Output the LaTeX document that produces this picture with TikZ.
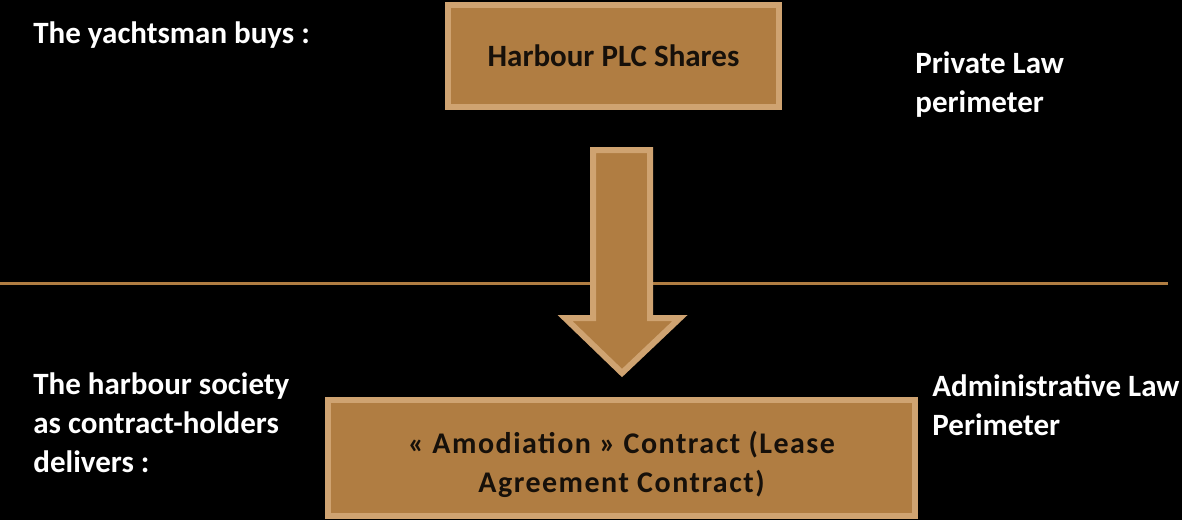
\documentclass[tikz,border=0pt]{standalone}
\usepackage{fontspec}
\setmainfont{Carlito}
\newfontfamily\leasefont[LetterSpace=5]{Carlito}
\definecolor{harbourfill}{RGB}{176,125,66}
\definecolor{harbouredge}{RGB}{207,163,113}
\definecolor{harbourtext}{RGB}{22,16,10}

\begin{document}
\begin{tikzpicture}[x=0.5pt,y=-0.5pt,
  contractbox/.style={draw=harbouredge,fill=harbourfill,line width=3pt,text=harbourtext,
    align=center,inner sep=0pt,font=\bfseries\fontsize{15.5}{20}\selectfont},
  sidelabel/.style={anchor=base west,text=white,align=left,inner sep=0pt,
    font=\bfseries\fontsize{15.5}{19.3}\selectfont}]
\useasboundingbox[fill=black] (0,0) rectangle (1182,520);

% perimeter boundary
\coordinate (lawL) at (0,283);
\coordinate (lawR) at (1168,283);
\draw[harbourfill,line width=1.5pt] (lawL) -- (lawR);

% boxes
\node[contractbox,minimum width=165.5pt,minimum height=51pt] (shares) at (613.5,56)
  {Harbour PLC Shares};
\node[contractbox,minimum width=293.5pt,minimum height=58pt,
  font=\leasefont\bfseries\fontsize{15}{19.5}\selectfont] (lease) at (621.5,458)
  {\rule{0pt}{18pt}« Amodiation » Contract (Lease\\Agreement Contract)};

% block arrow between the perimeters
\draw[harbouredge,fill=harbourfill,line width=3pt,line join=miter]
  (593,150) -- (650,150) -- (650,318) -- (680,318) -- (622,373)
  -- (565,318) -- (593,318) -- cycle;

% labels (base = last line)
\node[sidelabel] (buyer) at (33,43) {The yachtsman buys :};
\node[sidelabel] (private) at (915,112) {Private Law\\perimeter};
\node[sidelabel] (society) at (33,472) {The harbour society\\as contract-holders\\delivers :};
\node[sidelabel] (admin) at (932,435) {Administrative Law\\Perimeter};
\end{tikzpicture}
\end{document}
